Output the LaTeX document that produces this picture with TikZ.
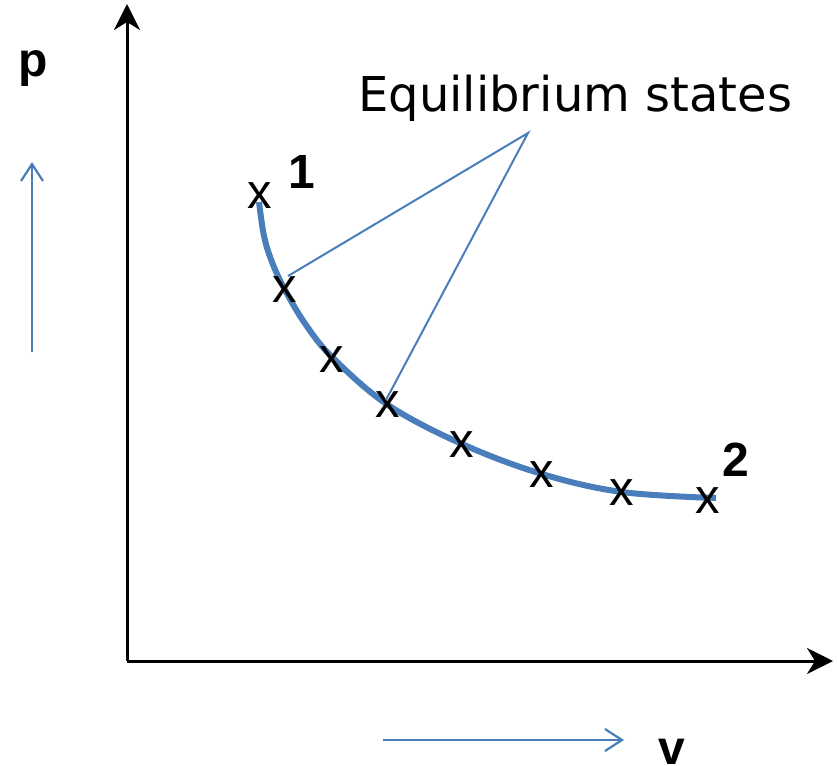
\documentclass[tikz,border=0pt]{standalone}
\usepackage{fontspec}
\setmainfont{Liberation Sans}
\newfontfamily\eqfont{DejaVu Sans}
\usetikzlibrary{arrows.meta}
\definecolor{cblue}{RGB}{74,126,187}
\begin{document}
\begin{tikzpicture}[x=1pt,y=-1pt,
  axis/.style={line width=3pt, -{Stealth[length=26pt,width=26pt,inset=8pt]}},
  dirarrow/.style={cblue, line width=2.2pt, -{Straight Barb[length=17pt,width=22pt]}},
  lbl/.style={font=\fontsize{48}{48}\selectfont\bfseries, inner sep=0pt},
  crossmark/.style={font=\fontsize{49}{49}\selectfont, inner sep=0pt},
  leader/.style={cblue, line width=2pt},
  curveline/.style={cblue, line width=6pt, line cap=butt},
]
\useasboundingbox (0,0) rectangle (837,765);

% axes
\coordinate (O) at (127,661);
\coordinate (ytop) at (127,4);
\coordinate (xend) at (833,661);
\draw[axis] (O) -- (ytop);
\draw[axis] (O) -- (xend);

% direction arrows
\coordinate (pa0) at (32,352);
\coordinate (pa1) at (32,162);
\draw[dirarrow] (pa0) -- (pa1);
\coordinate (va0) at (383,740);
\coordinate (va1) at (624,740);
\draw[dirarrow] (va0) -- (va1);

% axis labels
\node[lbl] (plabel) at (33,69) {p};
\node[lbl] (vlabel) at (672,752) {v};

% process curve
\draw[curveline] plot[smooth, tension=0.6] coordinates {
  (259,202) (264,236) (272,262) (285,290) (306,325) (333,358)
  (388,405) (462,444) (542,474) (622,492) (716,498)};

% equilibrium state marks
\node[crossmark] (c1) at (260,196) {x};
\node[crossmark] (c2) at (285,290) {x};
\node[crossmark] (c3) at (332,360) {x};
\node[crossmark] (c4) at (388,405) {x};
\node[crossmark] (c5) at (462,445) {x};
\node[crossmark] (c6) at (542,475) {x};
\node[crossmark] (c7) at (622,493) {x};
\node[crossmark] (c8) at (708,501) {x};

% state numbers
\node[lbl] (n1) at (302,172) {1};
\node[lbl] (n2) at (736,460) {2};

% annotation
\node[font=\eqfont\fontsize{48}{48}\selectfont, inner sep=0pt, anchor=base west] (eq) at (358,112) {Equilibrium states};
\coordinate (apex) at (528,133);
\coordinate (t2) at (288,276);
\coordinate (t4) at (386,400);
\draw[leader] (t2) -- (apex) -- (t4);
\end{tikzpicture}
\end{document}
